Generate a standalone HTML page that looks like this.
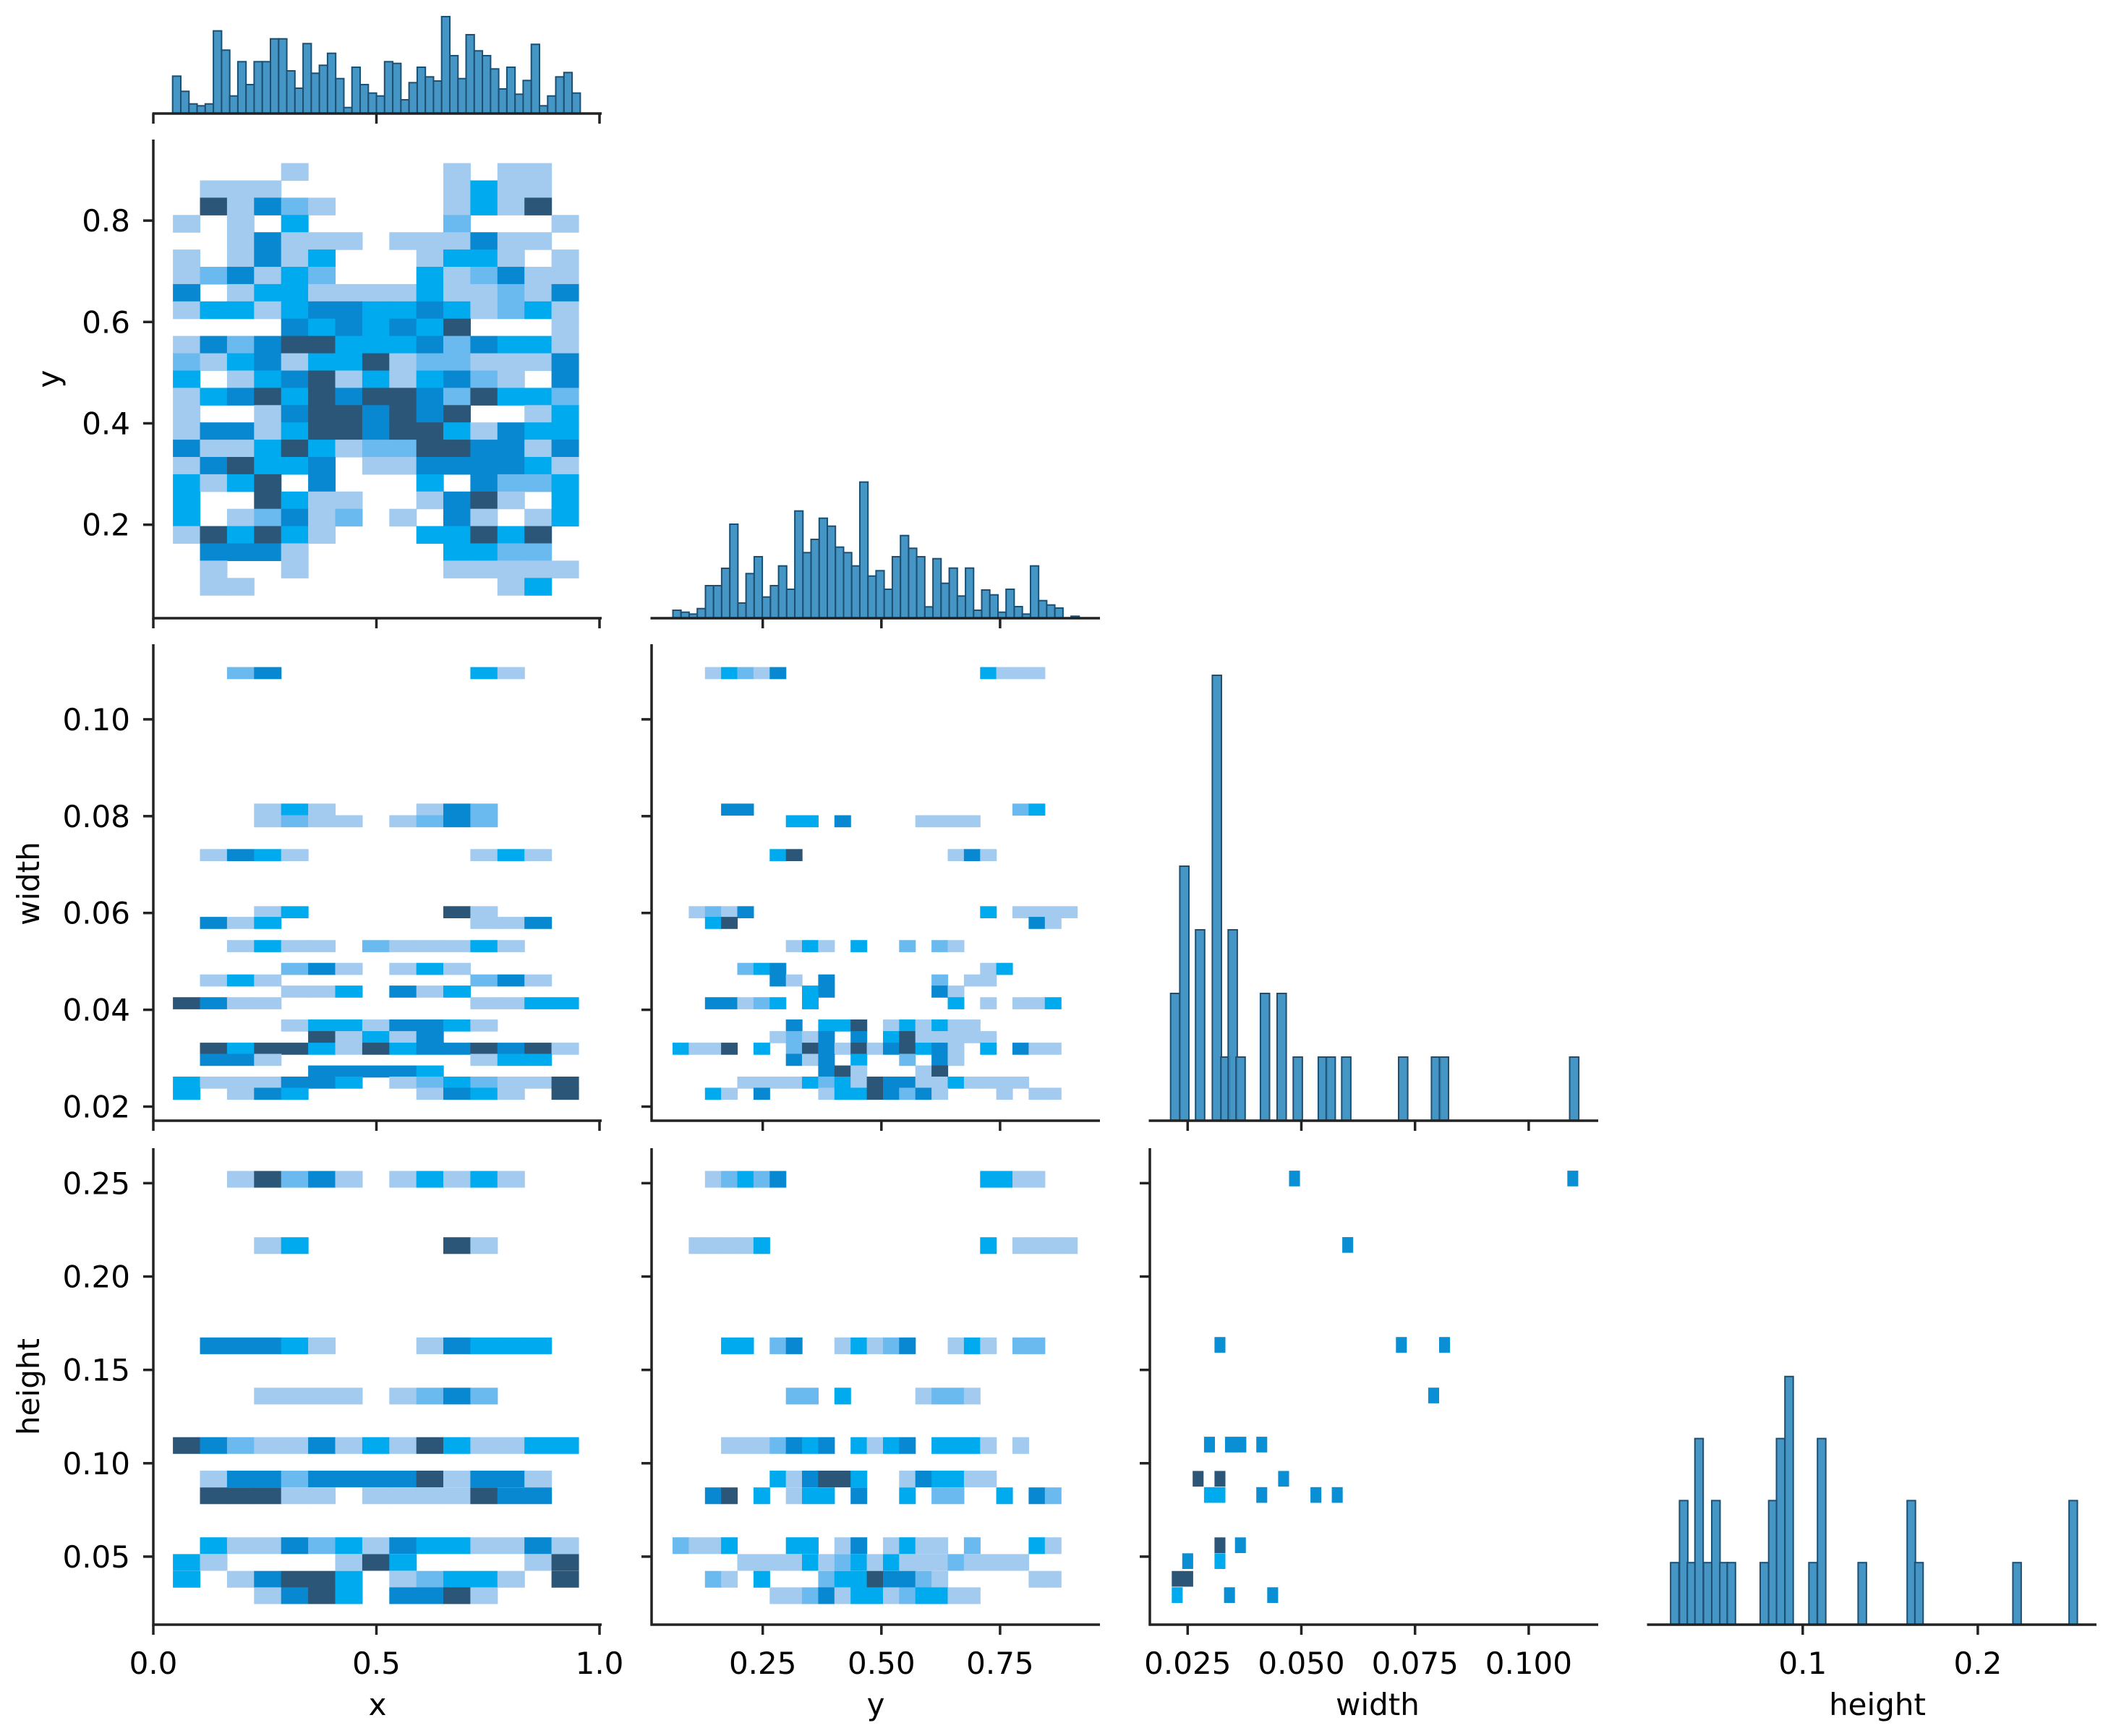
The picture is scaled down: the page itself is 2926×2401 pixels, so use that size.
<!DOCTYPE html>
<html><head><meta charset="utf-8"><style>
html,body{margin:0;padding:0;background:#fff;}
svg{display:block;}
text{font-family:"DejaVu Sans","Liberation Sans",sans-serif;fill:#000;}
</style></head><body>
<svg id="chart" xmlns="http://www.w3.org/2000/svg" width="2926" height="2401" viewBox="0 0 2926 2401"></svg>
<script>
// ---------- data ----------
const levelColors = ["none","#a3cbef","#6ab9ef","#00aaef","#0888d0","#2c5677","#0b8fd4"];
const xBins = {start:0.044, width:0.0606};
const yBins = {start:0.06, width:0.0341};
const xyRowTop = 0.9134;
const xyRows = [
"000010000010110","011100000013110","051421000013150","101030000020001","001411101114110",
"101413000133101","124132000312411","401331111311214","133134433431231","000043434350001",
"142455333424331","213413351221114","301345131342104","134535455425332","100145545450013",
"144135545531433","411353122554414","145334011444431","313504000304223","300531100145103",
"301241201041013","153531000335350","044410000033220","010010000011111","011000000000130"];
const widthRowVals = [0.1096,0.0814,0.0790,0.0720,0.0602,0.0580,0.0532,0.0485,0.0461,0.0438,0.0414,0.0368,0.0344,0.0320,0.0297,0.0273,0.0250,0.0227];
const widthXRows = ["002400000003100","000131000142000","000121101242000","014310000001310","000130000051000","041300000001140","001311021113100","000024101310000","013100000002410","000011304130000","541100000001133","000013314431000","000005131400000","053553153445451","044100000001330","000004444300000","311144301232115","301430000143105"];
const widthYRows = ["0013214000000000000311100","0004400000000000000002300","0000000330400001111000000","0000003500000000014100000","0121400000000000000301111","0035000000000000000000410","0000000131030020210000000","0000234000000000000130000","0000004104000000201100000","0000000034000000410000000","0044123030000000030101130","0000000403350131311000000","0000001214040351111100000","3115030254151453410304110","0000000414030020410000000","0000000004510001500000000","0000111132315441131111000","0031040001335424100010110"];
const heightRowVals = [0.2522,0.2167,0.1630,0.1361,0.1096,0.0917,0.0827,0.0560,0.0470,0.0380,0.0292];
const heightXRows = ["001524101313100","000130000051000","044431000143330","000111101242000","542114131531133","014424444514410","055511011115440","031142314331141","310000153000015","301455301233105","000145304451000"];
const heightYRows = ["0012324000000000000331100","0111130000000000000301111","0003302400131240013102200","0000000220300001221000000","0001112434031340333101000","0000003145530014331100000","0045030133040030220030420","2113000330140131102000310","0000111131231311121111000","0021030002335442100000110","0000001124133123311000000"];
const hwWidths  = [0.0485,0.1097,0.0602,0.0321,0.0720,0.0815,0.0791,0.0298,0.0344,0.0367,0.0413,0.0273,0.0321,0.0461,0.0298,0.0321,0.0413,0.0532,0.0579,0.0321,0.0366,0.0250,0.0321,0.0227,0.0250,0.0227,0.0342,0.0437];
const hwHeights = [0.2525,0.2525,0.2169,0.1634,0.1634,0.1634,0.1363,0.1100,0.1100,0.1100,0.1100,0.0917,0.0917,0.0917,0.0830,0.0830,0.0830,0.0830,0.0830,0.0561,0.0561,0.0476,0.0476,0.0381,0.0381,0.0294,0.0294,0.0294];
const hwLevels  = [6,6,6,6,6,6,6,6,6,6,6,5,5,6,3,3,6,6,6,5,6,6,3,5,5,3,6,6];
const xHistStart = 0.0433, xHistBin = 0.01827;
const xHistCounts = [15.5,9.2,4.0,3.2,4.0,34.3,26.3,7.3,21.5,12.0,21.5,21.5,31.0,31.0,17.7,10.5,29.0,16.7,20.0,25.0,14.5,2.5,19.2,12.0,8.5,7.3,21.5,20.8,5.7,12.8,19.2,15.2,13.5,40.2,24.0,14.5,32.7,26.0,24.0,18.5,10.2,19.2,8.0,13.7,28.7,3.2,7.3,15.2,17.0,8.5];
const yHistStart = 0.0608, yHistBin = 0.01712;
const yHistCounts = [3.3,2.5,1.7,4.0,13.5,13.5,20.7,39.0,6.3,18.5,25.5,8.8,13.5,21.7,12.0,44.5,27.2,32.7,41.5,38.2,29.5,27.2,21.7,56.5,17.5,19.7,12.0,25.5,34.3,29.0,25.5,4.7,24.7,14.5,20.8,9.2,20.8,3.3,11.7,9.7,2.5,12.0,4.8,1.7,21.7,7.3,5.5,4.2,0,0.8];
const wHistCenters = [0.02225,0.02427,0.02774,0.03142,0.03330,0.03491,0.03664,0.04200,0.04567,0.04922,0.05472,0.05646,0.05987,0.07239,0.07961,0.08136,0.1100];
const wHistCounts = [2,4,3,7,1,3,1,2,2,1,1,1,1,1,1,1,1];
const hHistCenters = [0.0269,0.0320,0.0364,0.0408,0.0457,0.0504,0.0550,0.0592,0.0781,0.0829,0.0874,0.0922,0.1059,0.1108,0.1340,0.1620,0.1664,0.2224,0.2545];
const hHistCounts = [1,2,1,3,1,2,1,1,1,2,3,4,1,3,1,2,1,1,2];
const xTicks = [0,0.5,1.0], xTickLabels = ["0.0","0.5","1.0"];
const yTicks = [0.25,0.5,0.75], yTickLabels = ["0.25","0.50","0.75"];
const wTicks = [0.025,0.05,0.075,0.1], wTickLabels = ["0.025","0.050","0.075","0.100"];
const hTicks = [0.1,0.2], hTickLabels = ["0.1","0.2"];
const yLeftTicks = [0.2,0.4,0.6,0.8], yLeftLabels = ["0.2","0.4","0.6","0.8"];
const wLeftTicks = [0.02,0.04,0.06,0.08,0.10], wLeftLabels = ["0.02","0.04","0.06","0.08","0.10"];
const hLeftTicks = [0.05,0.10,0.15,0.20,0.25], hLeftLabels = ["0.05","0.10","0.15","0.20","0.25"];

// ---------- scales ----------
const X1 = v => 212 + v*617;
const X2 = v => 890.6 + v*656.4;
const X3 = v => 1642.3 + (v-0.025)*6288;
const X4 = v => 2492.8 + (v-0.1)*2421;
const Y1 = v => 725.7 - (v-0.2)*701;
const Y2 = v => 1530.5 - (v-0.02)*6695;
const Y3 = v => 2152.9 - (v-0.05)*2582.5;
const COLL = [212,901,1590,2279], COLW = 620;
const ROWB = [157,855,1550,2247], ROWT = [0,193,891,1588];

const svg = document.getElementById('chart');
const NS = "http://www.w3.org/2000/svg";
function mk(tag, attrs, parent){
  const e = document.createElementNS(NS, tag);
  for (const k in attrs) e.setAttribute(k, attrs[k]);
  (parent||svg).appendChild(e);
  return e;
}
function group(name){
  const g = mk('g', {});
  
  
  return g;
}
function cell(g, x, y, w, h, lvl){
  if (!lvl) return;
  const r = mk('rect', {x:x.toFixed(1), y:y.toFixed(1), width:w.toFixed(1), height:h.toFixed(1), fill:levelColors[lvl]}, g);
  
  
}
function gridPanel(name, rowsStr, rowYs, rowH, xs, xbin, X, Y){
  const g = group(name);
  rowsStr.forEach((s, i) => {
    const yv = rowYs[i];
    for (let c = 0; c < s.length; c++) {
      const lvl = +s[c];
      const x0 = X(xs + c*xbin), x1 = X(xs + (c+1)*xbin);
      const y0 = Y(yv + rowH/2), y1 = Y(yv - rowH/2);
      cell(g, x0, y0, x1-x0+0.6, y1-y0+0.6, lvl);
    }
  });
}
function bars(name, centers, counts, binW, X, base, unit){
  const g = group(name);
  centers.forEach((c, i) => {
    if (!counts[i]) return;
    const x0 = X(c - binW/2), x1 = X(c + binW/2), h = counts[i]*unit;
    const r = mk('rect', {x:x0.toFixed(1), y:(base-h).toFixed(1), width:(x1-x0).toFixed(1), height:h.toFixed(1), fill:"#3b8fc2", stroke:"#1d4f73", 'stroke-width':2, 'fill-opacity':0.95}, g);
    
    
  });
}
function line(g, x1, y1, x2, y2, w){
  mk('line', {x1, y1, x2, y2, stroke:"#222", 'stroke-width':w||3.5}, g);
}
function bottomAxis(name, col, row, ticks, labels, X){
  const g = group(name);
  const y = ROWB[row];
  line(g, COLL[col]-1.5, y, COLL[col]+COLW, y, 3.5);
  ticks.forEach((t, i) => {
    line(g, X(t), y, X(t), y+14, 3.5);
    if (labels) {
      const tx = mk('text', {x:X(t), y:y+68, 'font-size':42, 'text-anchor':'middle'}, g);
      tx.textContent = labels[i];
      
      
    }
  });
}
function leftAxis(name, col, row, ticks, labels, Y){
  const g = group(name);
  const x = COLL[col];
  line(g, x, ROWT[row], x, ROWB[row]+1.5, 3.5);
  ticks.forEach((t, i) => {
    line(g, x-14, Y(t), x, Y(t), 3.5);
    if (labels) {
      const tx = mk('text', {x:x-32, y:Y(t)+15, 'font-size':42, 'text-anchor':'end'}, g);
      tx.textContent = labels[i];
      
      
    }
  });
}

// ---------- heatmaps ----------
const xyRowCenters = xyRows.map((s, i) => xyRowTop - (i+0.5)*yBins.width);
gridPanel('heatmap-y-vs-x', xyRows, xyRowCenters, yBins.width, xBins.start, xBins.width, X1, Y1);
gridPanel('heatmap-width-vs-x', widthXRows, widthRowVals, 0.0024, xBins.start, xBins.width, X1, Y2);
gridPanel('heatmap-width-vs-y', widthYRows, widthRowVals, 0.0024, yBins.start, yBins.width, X2, Y2);
gridPanel('heatmap-height-vs-x', heightXRows, heightRowVals, 0.0087, xBins.start, xBins.width, X1, Y3);
gridPanel('heatmap-height-vs-y', heightYRows, heightRowVals, 0.0087, yBins.start, yBins.width, X2, Y3);
(function(){
  const g = group('heatmap-height-vs-width');
  hwWidths.forEach((w, i) => {
    const x0 = X3(w - 0.0012), x1 = X3(w + 0.0012);
    const y0 = Y3(hwHeights[i] + 0.0042), y1 = Y3(hwHeights[i] - 0.0042);
    cell(g, x0, y0, x1-x0, y1-y0, hwLevels[i]);
  });
})();

// ---------- histograms ----------
const xHistCenters = xHistCounts.map((c, i) => xHistStart + (i+0.5)*xHistBin);
const yHistCenters = yHistCounts.map((c, i) => yHistStart + (i+0.5)*yHistBin);
bars('histogram-x', xHistCenters, xHistCounts, xHistBin, X1, ROWB[0], 3.333);
bars('histogram-y', yHistCenters, yHistCounts, yHistBin, X2, ROWB[1], 3.333);
bars('histogram-width', wHistCenters, wHistCounts, 0.002, X3, ROWB[2], 88);
bars('histogram-height', hHistCenters, hHistCounts, 0.00475, X4, ROWB[3], 85.8);

// ---------- axes ----------
bottomAxis('x-axis-hist-x', 0, 0, xTicks, null, X1);
bottomAxis('x-axis-y-vs-x', 0, 1, xTicks, null, X1);
bottomAxis('x-axis-hist-y', 1, 1, yTicks, null, X2);
bottomAxis('x-axis-width-vs-x', 0, 2, xTicks, null, X1);
bottomAxis('x-axis-width-vs-y', 1, 2, yTicks, null, X2);
bottomAxis('x-axis-hist-width', 2, 2, wTicks, null, X3);
bottomAxis('x-axis-x', 0, 3, xTicks, xTickLabels, X1);
bottomAxis('x-axis-y', 1, 3, yTicks, yTickLabels, X2);
bottomAxis('x-axis-width', 2, 3, wTicks, wTickLabels, X3);
bottomAxis('x-axis-height', 3, 3, hTicks, hTickLabels, X4);
leftAxis('y-axis-y', 0, 1, yLeftTicks, yLeftLabels, Y1);
leftAxis('y-axis-width', 0, 2, wLeftTicks, wLeftLabels, Y2);
leftAxis('y-axis-width-col2', 1, 2, wLeftTicks, null, Y2);
leftAxis('y-axis-height', 0, 3, hLeftTicks, hLeftLabels, Y3);
leftAxis('y-axis-height-col2', 1, 3, hLeftTicks, null, Y3);
leftAxis('y-axis-height-col3', 2, 3, hLeftTicks, null, Y3);
</script>
<svg style="position:absolute;left:0;top:0" width="2926" height="2401" viewBox="0 0 2926 2401">
  <text x="522" y="2372" font-size="42" text-anchor="middle">x</text>
  <text x="1211" y="2372" font-size="42" text-anchor="middle">y</text>
  <text x="1905" y="2372" font-size="42" text-anchor="middle">width</text>
  <text x="2596" y="2372" font-size="42" text-anchor="middle">height</text>
  <text x="82" y="524" font-size="42" text-anchor="middle" transform="rotate(-90 82 524)">y</text>
  <text x="54" y="1222" font-size="42" text-anchor="middle" transform="rotate(-90 54 1222)">width</text>
  <text x="54" y="1918" font-size="42" text-anchor="middle" transform="rotate(-90 54 1918)">height</text>
</svg>
</body></html>
